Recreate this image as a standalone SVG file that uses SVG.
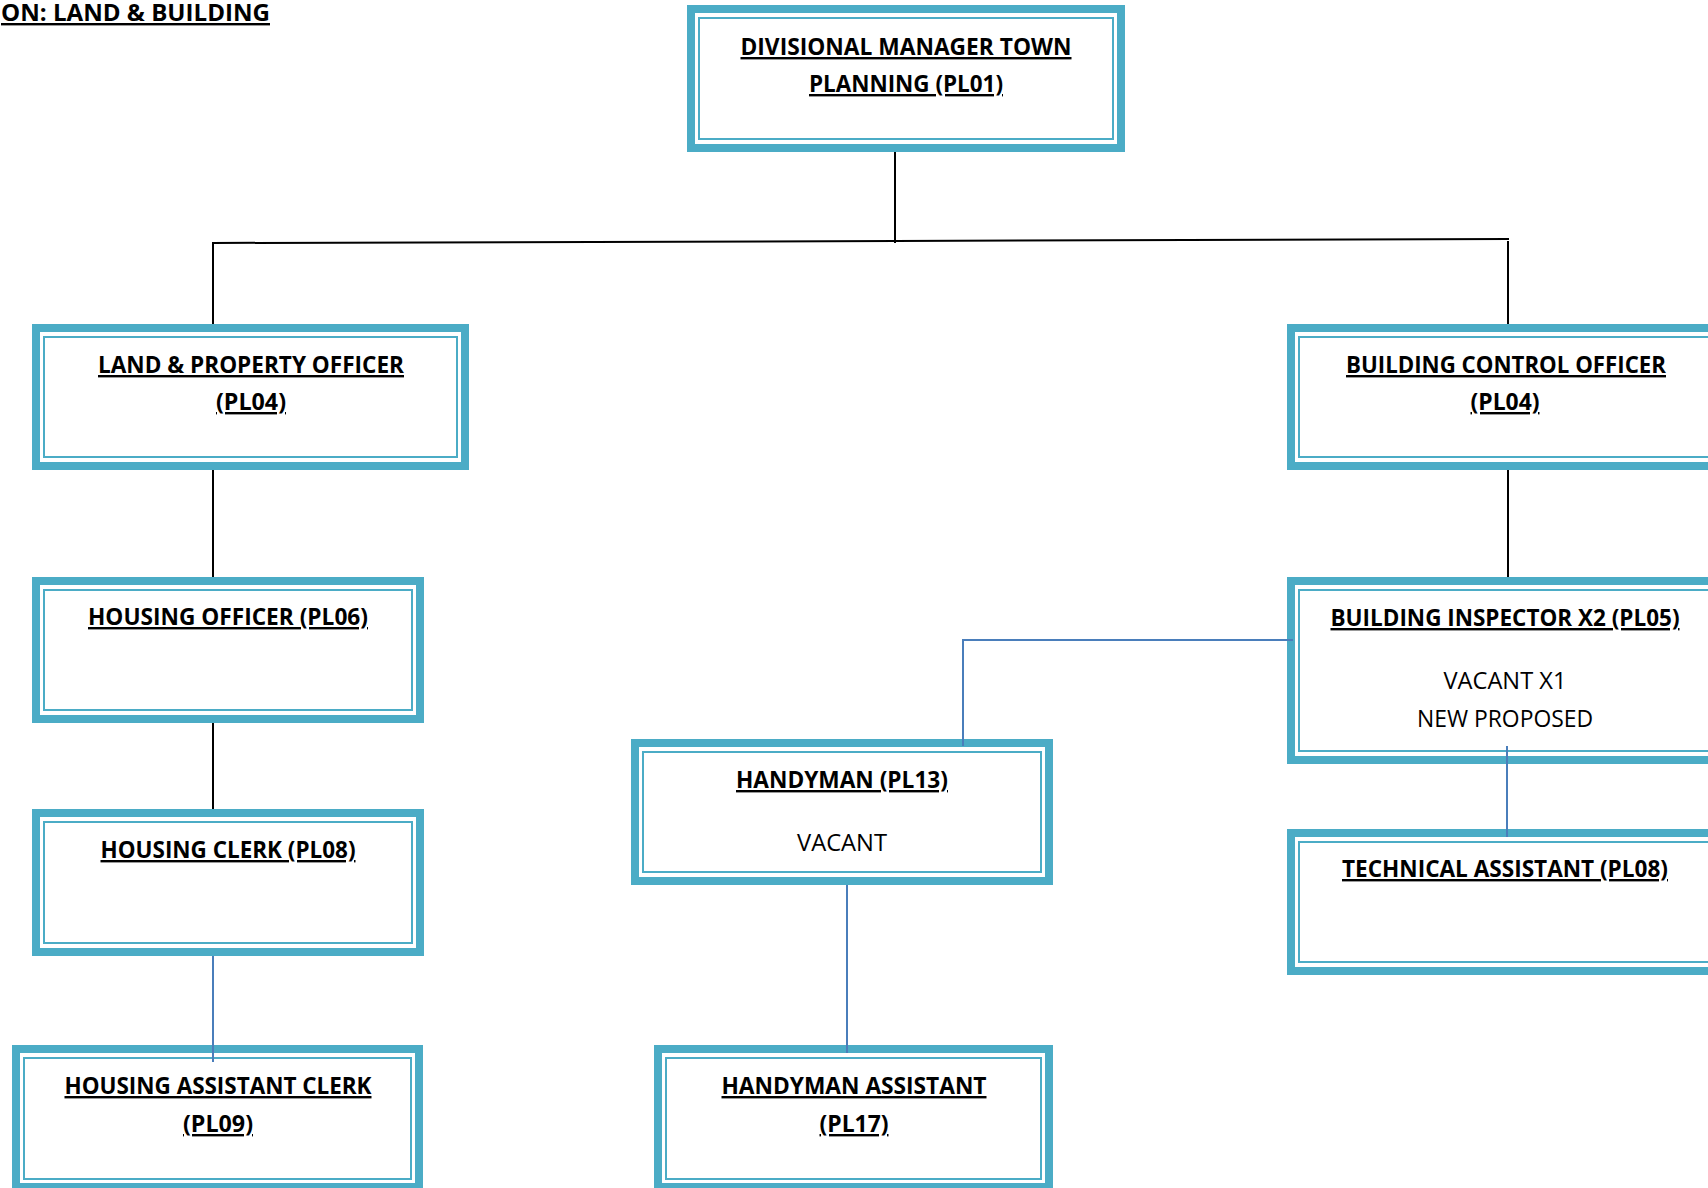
<svg xmlns="http://www.w3.org/2000/svg" width="1708" height="1188" viewBox="0 0 1708 1188">
  <style>
    .frame { fill: #ffffff; stroke: #4bacc6; stroke-width: 8; }
    .inner { fill: none; stroke: #4bacc6; stroke-width: 2; }
    .t { font-family: "Open Sans", Lato, "Liberation Sans", sans-serif; font-size: 24px; fill: #000000; text-anchor: middle; }
    .b { font-weight: 700; text-decoration: underline; text-decoration-skip-ink: none; }
    .r { font-weight: 400; }
    .black { stroke: #000000; stroke-width: 2; fill: none; }
    .blue { stroke: #4a7ebb; stroke-width: 2; fill: none; }
  </style>

  <rect width="1708" height="1188" fill="#ffffff"/>

  <!-- section heading, cropped at the left edge -->
  <text class="t b" x="270" y="21" style="text-anchor:end" textLength="269" lengthAdjust="spacingAndGlyphs">ON: LAND &amp; BUILDING</text>

  <g id="divisional-manager">
    <rect class="frame" x="691" y="9" width="430" height="139"/>
    <rect class="inner" x="699" y="18" width="414" height="121"/>
    <text class="t b" x="906" y="55" textLength="331" lengthAdjust="spacingAndGlyphs">DIVISIONAL MANAGER TOWN</text>
    <text class="t b" x="906" y="92" textLength="194" lengthAdjust="spacingAndGlyphs">PLANNING (PL01)</text>
  </g>

  <g id="land-property-officer">
    <rect class="frame" x="36" y="328" width="429" height="138"/>
    <rect class="inner" x="44" y="337" width="413" height="120"/>
    <text class="t b" x="251" y="373" textLength="306" lengthAdjust="spacingAndGlyphs">LAND &amp; PROPERTY OFFICER</text>
    <text class="t b" x="251" y="410" textLength="70" lengthAdjust="spacingAndGlyphs">(PL04)</text>
  </g>

  <g id="building-control-officer">
    <rect class="frame" x="1291" y="328" width="430" height="138"/>
    <rect class="inner" x="1299" y="337" width="414" height="120"/>
    <text class="t b" x="1506" y="373" textLength="320" lengthAdjust="spacingAndGlyphs">BUILDING CONTROL OFFICER</text>
    <text class="t b" x="1505" y="410" textLength="69" lengthAdjust="spacingAndGlyphs">(PL04)</text>
  </g>

  <g id="housing-officer">
    <rect class="frame" x="36" y="581" width="384" height="138"/>
    <rect class="inner" x="44" y="590" width="368" height="120"/>
    <text class="t b" x="228" y="625" textLength="280" lengthAdjust="spacingAndGlyphs">HOUSING OFFICER (PL06)</text>
  </g>

  <g id="housing-clerk">
    <rect class="frame" x="36" y="813" width="384" height="139"/>
    <rect class="inner" x="44" y="822" width="368" height="121"/>
    <text class="t b" x="228" y="858" textLength="255" lengthAdjust="spacingAndGlyphs">HOUSING CLERK (PL08)</text>
  </g>

  <g id="housing-assistant-clerk">
    <rect class="frame" x="16" y="1049" width="403" height="138"/>
    <rect class="inner" x="24" y="1058" width="387" height="121"/>
    <text class="t b" x="218" y="1094" textLength="307" lengthAdjust="spacingAndGlyphs">HOUSING ASSISTANT CLERK</text>
    <text class="t b" x="218" y="1132" textLength="70" lengthAdjust="spacingAndGlyphs">(PL09)</text>
  </g>

  <g id="building-inspector">
    <rect class="frame" x="1291" y="581" width="430" height="179"/>
    <rect class="inner" x="1299" y="590" width="414" height="161"/>
    <text class="t b" x="1505" y="626" textLength="349" lengthAdjust="spacingAndGlyphs">BUILDING INSPECTOR X2 (PL05)</text>
    <text class="t r" x="1505" y="689" textLength="123" lengthAdjust="spacingAndGlyphs">VACANT X1</text>
    <text class="t r" x="1505" y="727" textLength="176" lengthAdjust="spacingAndGlyphs">NEW PROPOSED</text>
  </g>

  <g id="technical-assistant">
    <rect class="frame" x="1291" y="833" width="430" height="138"/>
    <rect class="inner" x="1299" y="842" width="414" height="120"/>
    <text class="t b" x="1505" y="877" textLength="326" lengthAdjust="spacingAndGlyphs">TECHNICAL ASSISTANT (PL08)</text>
  </g>

  <g id="handyman">
    <rect class="frame" x="635" y="743" width="414" height="138"/>
    <rect class="inner" x="643" y="752" width="398" height="120"/>
    <text class="t b" x="842" y="788" textLength="212" lengthAdjust="spacingAndGlyphs">HANDYMAN (PL13)</text>
    <text class="t r" x="842" y="851" textLength="90" lengthAdjust="spacingAndGlyphs">VACANT</text>
  </g>

  <g id="handyman-assistant">
    <rect class="frame" x="658" y="1049" width="391" height="138"/>
    <rect class="inner" x="666" y="1058" width="375" height="121"/>
    <text class="t b" x="854" y="1094" textLength="265" lengthAdjust="spacingAndGlyphs">HANDYMAN ASSISTANT</text>
    <text class="t b" x="854" y="1132" textLength="69" lengthAdjust="spacingAndGlyphs">(PL17)</text>
  </g>

  <!-- reporting lines, drawn over the frames -->
  <g id="connectors">
    <path class="black" d="M895 152 V243"/>
    <path class="black" d="M213 324 V243 L895 241 L1509 239"/>
    <path class="black" d="M1508 241 V324"/>
    <path class="black" d="M213 470 V577"/>
    <path class="black" d="M213 723 V809"/>
    <path class="black" d="M1508 470 V577"/>
    <path class="blue" d="M213 956 V1062"/>
    <path class="blue" d="M1293 640 H963 V746"/>
    <path class="blue" d="M847 885 V1053"/>
    <path class="blue" d="M1507 746 V837"/>
  </g>
</svg>
